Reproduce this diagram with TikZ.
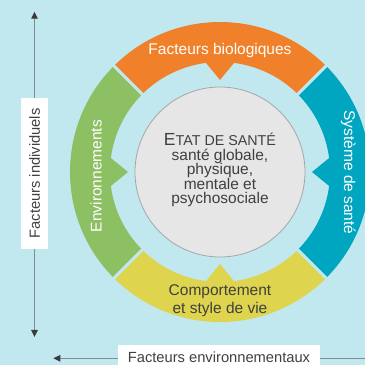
\documentclass[tikz,border=0pt]{standalone}
\usepackage{fontspec}
\setmainfont{Liberation Sans}
\usetikzlibrary{arrows.meta}
\definecolor{bgc}{HTML}{C2E8EF}
\definecolor{orangec}{HTML}{F0812A}
\definecolor{greenc}{HTML}{8CC063}
\definecolor{bluec}{HTML}{00A6C0}
\definecolor{yellowc}{HTML}{DED44E}
\definecolor{corec}{HTML}{E6E6E6}
\definecolor{corelinec}{HTML}{A6A6A6}
\definecolor{txtc}{HTML}{404040}
\definecolor{axisc}{HTML}{7F8E94}
\definecolor{tipc}{HTML}{3A3A3A}
\newcommand\ringseg[2]{%
  \pgfmathsetmacro\segsa{#1}%
  \pgfmathsetmacro\segea{#1+90}%
  \pgfmathsetmacro\segma{#1+45}%
  \pgfmathsetmacro\segna{#1+52.3}%
  \pgfmathsetmacro\segnb{#1+37.7}%
  \fill[#2] ([shift={(c)}]\segsa:150pt) arc[start angle=\segsa, end angle=\segea, radius=150pt]
    -- ([shift={(c)}]\segea:110pt) arc[start angle=\segea, end angle=\segna, radius=110pt]
    -- ([shift={(c)}]\segma:92pt)
    -- ([shift={(c)}]\segnb:110pt) arc[start angle=\segnb, end angle=\segsa, radius=110pt]
    -- cycle;}
\begin{document}
\begin{tikzpicture}[x=1pt,y=1pt,
  lbl/.style={font=\fontsize{15.5}{18}\selectfont, inner sep=0pt},
  whitelbl/.style={lbl, text=white},
  darklbl/.style={lbl, text=txtc},
  axisline/.style={draw=axisc, line width=1.3pt, -{Triangle[length=7pt,width=6.5pt,color=tipc]}},
  tagbox/.style={fill=white, text=txtc, inner sep=0pt, font=\fontsize{14.7}{17}\selectfont},
  gapline/.style={draw=bgc, line width=3pt}]
\fill[bgc] (0,0) rectangle (365,365);
\clip (0,0) rectangle (365,365);
\useasboundingbox (0,0) rectangle (365,365);
\coordinate (c) at (220,193);
% ring
\ringseg{45}{orangec}
\ringseg{-45}{bluec}
\ringseg{225}{yellowc}
\ringseg{135}{greenc}
\foreach \a in {45,135,225,315}
  \draw[gapline] ([shift={(c)}]\a:106pt) -- ([shift={(c)}]\a:154pt);
% core
\node[circle, fill=corec, draw=corelinec, line width=0.8pt, minimum size=170pt, inner sep=0pt] (core) at (c) {};
\node[darklbl, anchor=base] (st1) at (220,219) {{\fontsize{17.5}{18}\selectfont E}{\fontsize{14.3}{18}\selectfont TAT DE SANTÉ}};
\node[darklbl, anchor=base] (st2) at (220,204.3) {santé globale,};
\node[darklbl, anchor=base] (st3) at (220,190) {physique,};
\node[darklbl, anchor=base] (st4) at (220,175.7) {mentale et};
\node[darklbl, anchor=base] (st5) at (220,161.7) {psychosociale};
% ring labels
\node[whitelbl, anchor=base] (bio) at (220,310) {Facteurs biologiques};
\node[darklbl, anchor=base] (comp1) at (220,70) {Comportement};
\node[darklbl, anchor=base] (comp2) at (220,51) {et style de vie};
\node[whitelbl, anchor=base, rotate=90] (env) at (101.7,189) {Environnements};
\node[whitelbl, anchor=base, rotate=-90] (sys) at (344,192.5) {Système de santé};
% axes
\node[tagbox, rotate=90, minimum width=151pt, minimum height=27pt] (indiv) at (34.5,191.5) {Facteurs individuels};
\coordinate (indtop) at (34.5,353.3);
\coordinate (indbot) at (34.5,28);
\draw[axisline] (indiv.east) -- (indtop);
\draw[axisline] (indiv.west) -- (indbot);
\node[tagbox, minimum width=202pt, minimum height=25pt] (envf) at (219,7.5) {Facteurs environnementaux};
\coordinate (envleft) at (53.3,6.7);
\coordinate (envright) at (372,6.7);
\draw[axisline] (envf.west |- envleft) -- (envleft);
\draw[draw=axisc, line width=1.3pt] (envf.east |- envright) -- (envright);
\end{tikzpicture}
\end{document}
